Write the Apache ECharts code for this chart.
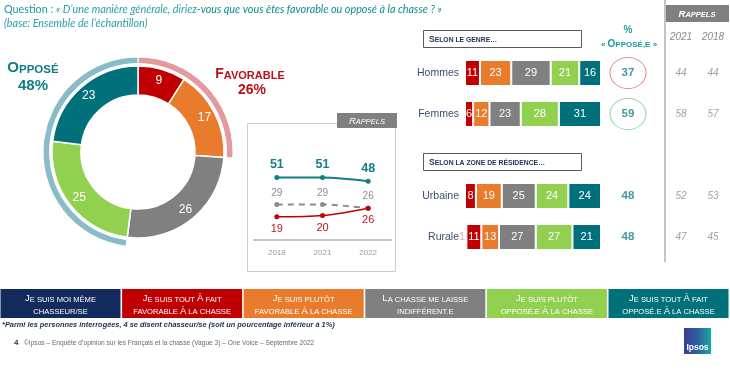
<!DOCTYPE html>
<html><head><meta charset="utf-8">
<script src="https://cdn.jsdelivr.net/npm/echarts@6/dist/echarts.min.js"></script>
<style>html,body{margin:0;padding:0;background:#fff}#c{width:730px;height:380px}</style>
</head><body><div id="c"></div>
<script>
// ---------- DATA ----------
const answerCats = ['Je suis moi même chasseur/se','Je suis tout À fait favorable À la chasse','Je suis plutôt favorable À la chasse','La chasse me laisse indifférent.e','Je suis plutôt opposé.e À la chasse','Je suis tout À fait opposé.e À la chasse'];
const legendLines = [['Je suis moi même','chasseur/se'],['Je suis tout À fait','favorable À la chasse'],['Je suis plutôt','favorable À la chasse'],['La chasse me laisse','indifférent.e'],['Je suis plutôt','opposé.e À la chasse'],['Je suis tout À fait','opposé.e À la chasse']];
const donutValues = [9, 17, 26, 25, 23]; // tout à fait fav, plutôt fav, indiff, plutôt opp, tout à fait opp
const trendYears = ['2018', '2021', '2022'];
const trendOppose = [51, 51, 48];
const trendIndiff = [29, 29, 26];
const trendFavor = [19, 20, 26];
const rowCats = ['Hommes', 'Femmes', '', 'Urbaine', 'Rurale'];
const segChasseur = [0, 0, null, 0, 1];
const segToutFav = [11, 6, null, 8, 11];
const segPlutotFav = [23, 12, null, 19, 13];
const segIndiff = [29, 23, null, 25, 27];
const segPlutotOpp = [21, 28, null, 24, 27];
const segToutOpp = [16, 31, null, 24, 21];
const opposeTotal = [37, 59, null, 48, 48];
const rappelYears = ['2021', '2018'];
const rappel2021 = [44, 58, null, 52, 47];
const rappel2018 = [44, 57, null, 53, 45];

// ---------- STYLE ----------
const FONT = '"Liberation Sans", Arial, sans-serif';
const palette = ['#132b5c', '#c00000', '#e97b2c', '#808080', '#92d050', '#00717a'];
const TEAL_TXT = '#137d88';
const NAVY = '#1f2d57';
const circleColors = ['#e07070', '#7cc898', null, null, null];

function sc(str, B, S) {
  let out = '', cur = null, buf = '';
  for (const ch of str) {
    const up = ch !== ch.toLowerCase();
    const cls = up ? B : S;
    const c = up ? ch : ch.toUpperCase();
    if (cls !== cur && buf) { out += '{' + cur + '|' + buf + '}'; buf = ''; }
    cur = cls; buf += c;
  }
  if (buf) out += '{' + cur + '|' + buf + '}';
  return out;
}

const chart = echarts.init(document.getElementById('c'));

const segs = [segChasseur, segToutFav, segPlutotFav, segIndiff, segPlutotOpp, segToutOpp];
const favTotal = donutValues[0] + donutValues[1];
const oppTotal = donutValues[3] + donutValues[4];

const barSeries = segs.map((arr, k) => ({
  type: 'bar', name: answerCats[k], stack: 'a', xAxisIndex: 1, yAxisIndex: 1, barWidth: 26,
  silent: true, z: k === 0 ? 3 : 2,
  itemStyle: { color: palette[k], borderColor: '#fff', borderWidth: 1 },
  label: k === 0
    ? { show: true, position: 'left', distance: 0, color: '#d8aeb4', fontSize: 11, fontFamily: FONT,
        formatter: p => (p.value > 0 ? p.value : '') }
    : { show: true, position: 'inside', color: '#fff', fontSize: 11, fontFamily: FONT,
        formatter: p => (p.value > 0 ? p.value : '') },
  labelLayout: { hideOverlap: false },
  data: arr.map(v => (v == null ? '-' : v))
}));

function colData(arr, circled) {
  const out = [];
  arr.forEach((v, i) => {
    if (v == null) return;
    const item = { value: [0, i, v] };
    if (circled && circleColors[i]) {
      item.symbolSize = [36, 31];
      item.itemStyle = { color: 'rgba(0,0,0,0)', borderColor: circleColors[i], borderWidth: 1 };
    } else {
      item.symbolSize = 1;
      item.itemStyle = { color: 'rgba(0,0,0,0)' };
    }
    out.push(item);
  });
  return out;
}

const colGrids = [
  { left: 613, top: 52.5, width: 30, height: 205 },
  { left: 666, top: 52.5, width: 30, height: 205 },
  { left: 698, top: 52.5, width: 30, height: 205 }
];

const xAxes = [
  { gridIndex: 0, type: 'category', data: trendYears, boundaryGap: true,
    axisLine: { lineStyle: { color: '#c4c4c4', width: 2 } }, axisTick: { show: false },
    axisLabel: { color: '#9a9a9a', fontSize: 8, margin: 9, fontFamily: FONT } },
  { gridIndex: 1, type: 'value', min: 0, max: 100, show: false }
];
const yAxes = [
  { gridIndex: 0, type: 'value', min: 0, max: 80, show: false },
  { gridIndex: 1, type: 'category', data: rowCats, inverse: true,
    axisLine: { show: false }, axisTick: { show: false }, splitLine: { show: false },
    axisLabel: { color: '#3b4c70', fontSize: 10.5, margin: 6, fontFamily: FONT } }
];
colGrids.forEach((gr, j) => {
  xAxes.push({ gridIndex: 2 + j, type: 'category', data: ['x'], show: false });
  yAxes.push({ gridIndex: 2 + j, type: 'category', data: rowCats, inverse: true, show: false });
});

const colSeries = [
  { type: 'scatter', xAxisIndex: 2, yAxisIndex: 2, silent: true, data: colData(opposeTotal, true),
    label: { show: true, position: 'inside', formatter: p => p.value[2], color: TEAL_TXT, fontWeight: 'bold', fontSize: 11.5, fontFamily: FONT } },
  { type: 'scatter', xAxisIndex: 3, yAxisIndex: 3, silent: true, data: colData(rappel2021, false),
    label: { show: true, position: 'inside', formatter: p => p.value[2], color: '#8a8a8a', fontStyle: 'italic', fontSize: 10, fontFamily: FONT } },
  { type: 'scatter', xAxisIndex: 4, yAxisIndex: 4, silent: true, data: colData(rappel2018, false),
    label: { show: true, position: 'inside', formatter: p => p.value[2], color: '#8a8a8a', fontStyle: 'italic', fontSize: 10, fontFamily: FONT } }
];

// ---------- GRAPHICS ----------
const g = [];
g.push({ type: 'text', style: { x: 4, y: 3, text:
  '{q|Question : }{i|« D’une manière générale, diriez-}{b|vous que vous êtes favorable ou opposé à la chasse ? »}\n{i|(base: Ensemble de l’échantillon)}',
  rich: {
    q: { fontFamily: 'Lato', fontSize: 10.8, fill: '#1e9aa2', lineHeight: 14 },
    i: { fontFamily: 'Lato', fontSize: 10.8, fontStyle: 'italic', fill: '#2aa0a6', lineHeight: 14 },
    b: { fontFamily: 'Lato', fontSize: 10.8, fontStyle: 'italic', fill: '#138a92', lineHeight: 14 }
  } } });

// Opposé / Favorable labels
g.push({ type: 'text', style: { x: 33, y: 68, align: 'center', verticalAlign: 'middle', textAlign: 'center', textVerticalAlign: 'middle',
  text: sc('Opposé', 'B', 'S'),
  rich: { B: { fontSize: 15, fontWeight: 'bold', fill: '#127c86', fontFamily: FONT, verticalAlign: 'bottom' },
          S: { fontSize: 11.5, fontWeight: 'bold', fill: '#127c86', fontFamily: FONT, verticalAlign: 'bottom' } } } });
g.push({ type: 'text', style: { x: 33, y: 86, align: 'center', verticalAlign: 'middle', textAlign: 'center', textVerticalAlign: 'middle',
  text: oppTotal + '%', font: 'bold 15px ' + FONT, fill: '#127c86' } });
g.push({ type: 'text', style: { x: 250, y: 74, align: 'center', verticalAlign: 'middle', textAlign: 'center', textVerticalAlign: 'middle',
  text: sc('Favorable', 'B', 'S'),
  rich: { B: { fontSize: 14, fontWeight: 'bold', fill: '#b8101c', fontFamily: FONT, verticalAlign: 'bottom' },
          S: { fontSize: 11, fontWeight: 'bold', fill: '#b8101c', fontFamily: FONT, verticalAlign: 'bottom' } } } });
g.push({ type: 'text', style: { x: 252, y: 90, align: 'center', verticalAlign: 'middle', textAlign: 'center', textVerticalAlign: 'middle',
  text: favTotal + '%', font: 'bold 14px ' + FONT, fill: '#b8101c' } });

// mini chart frame + tab
g.push({ type: 'polyline', shape: { points: [[337, 123.5], [247.5, 123.5], [247.5, 271.5], [395.5, 271.5], [395.5, 128]] },
  style: { stroke: '#cccccc', lineWidth: 1, fill: null } });
g.push({ type: 'rect', shape: { x: 337, y: 113, width: 60, height: 15 }, style: { fill: '#808080' } });
g.push({ type: 'text', style: { x: 367, y: 121, align: 'center', verticalAlign: 'middle', textAlign: 'center', textVerticalAlign: 'middle',
  text: sc('Rappels', 'B', 'S'),
  rich: { B: { fontSize: 9.5, fontStyle: 'italic', fill: '#fff', fontFamily: FONT, verticalAlign: 'bottom' },
          S: { fontSize: 7.5, fontStyle: 'italic', fill: '#fff', fontFamily: FONT, verticalAlign: 'bottom' } } } });

// section boxes
[['Selon le genre…', 30], ['Selon la zone de résidence…', 153]].forEach(([t, y]) => {
  g.push({ type: 'rect', shape: { x: 423.5, y: y + 0.5, width: 158, height: 17 }, style: { fill: '#fff', stroke: '#5a5a5a', lineWidth: 1 } });
  g.push({ type: 'text', style: { x: 429, y: y + 9.5, verticalAlign: 'middle', textVerticalAlign: 'middle',
    text: sc(t, 'B', 'S'),
    rich: { B: { fontSize: 8.5, fontWeight: 'bold', fill: NAVY, fontFamily: FONT, verticalAlign: 'bottom' },
            S: { fontSize: 6.8, fontWeight: 'bold', fill: NAVY, fontFamily: FONT, verticalAlign: 'bottom' } } } });
});

// % opposé header
g.push({ type: 'text', style: { x: 628, y: 30, align: 'center', verticalAlign: 'middle', textAlign: 'center', textVerticalAlign: 'middle',
  text: '%', font: 'bold 10px ' + FONT, fill: '#1a9aa2' } });
g.push({ type: 'text', style: { x: 629, y: 44, align: 'center', verticalAlign: 'middle', textAlign: 'center', textVerticalAlign: 'middle',
  text: sc('« Opposé,e »', 'B', 'S'),
  rich: { B: { fontSize: 10, fontWeight: 'bold', fill: '#1a9aa2', fontFamily: FONT, verticalAlign: 'bottom' },
          S: { fontSize: 8, fontWeight: 'bold', fill: '#1a9aa2', fontFamily: FONT, verticalAlign: 'bottom' } } } });

// rappels column
g.push({ type: 'line', shape: { x1: 665, y1: 0, x2: 665, y2: 262 }, style: { stroke: '#c4c4c4', lineWidth: 2 } });
g.push({ type: 'rect', shape: { x: 666, y: 5, width: 63, height: 17 }, style: { fill: '#808080' } });
g.push({ type: 'text', style: { x: 697, y: 14, align: 'center', verticalAlign: 'middle', textAlign: 'center', textVerticalAlign: 'middle',
  text: sc('Rappels', 'B', 'S'),
  rich: { B: { fontSize: 9.5, fontStyle: 'italic', fontWeight: 'bold', fill: '#fff', fontFamily: FONT, verticalAlign: 'bottom' },
          S: { fontSize: 7.5, fontStyle: 'italic', fontWeight: 'bold', fill: '#fff', fontFamily: FONT, verticalAlign: 'bottom' } } } });
rappelYears.forEach((yr, j) => {
  g.push({ type: 'text', style: { x: [681, 713][j], y: 37, align: 'center', verticalAlign: 'middle', textAlign: 'center', textVerticalAlign: 'middle',
    text: yr, font: 'italic 10px ' + FONT, fill: '#8a8a8a' } });
});

// legend boxes
legendLines.forEach((lines, i) => {
  const x = i * 121.6 + 0.5;
  g.push({ type: 'rect', shape: { x: x, y: 289, width: 120, height: 29 }, style: { fill: palette[i] } });
  g.push({ type: 'text', style: { x: x + 60, y: 303.5, align: 'center', verticalAlign: 'middle', textAlign: 'center', textVerticalAlign: 'middle',
    text: lines.map(l => sc(l, 'B', 'S')).join('\n'),
    rich: { B: { fontSize: 9.5, fill: '#fff', fontFamily: FONT, verticalAlign: 'bottom', lineHeight: 12.5 },
            S: { fontSize: 7.6, fill: '#fff', fontFamily: FONT, verticalAlign: 'bottom', lineHeight: 12.5 } } } });
});

// footnotes
g.push({ type: 'text', style: { x: 2, y: 325, verticalAlign: 'middle', textVerticalAlign: 'middle',
  text: '*Parmi les personnes interrogées, 4 se disent chasseur/se (soit un pourcentage inférieur à 1%)',
  font: 'italic bold 7.4px ' + FONT, fill: NAVY } });
g.push({ type: 'text', style: { x: 14, y: 343, verticalAlign: 'middle', textVerticalAlign: 'middle',
  text: '4', font: 'bold 8px ' + FONT, fill: NAVY } });
g.push({ type: 'text', style: { x: 24, y: 343, verticalAlign: 'middle', textVerticalAlign: 'middle',
  text: '©Ipsos – Enquête d’opinion sur les Français et la chasse (Vague 3) – One Voice – Septembre 2022',
  font: '6.6px ' + FONT, fill: '#6a6a6a' } });

// logo
g.push({ type: 'rect', shape: { x: 684, y: 328, width: 27, height: 26 },
  style: { fill: new echarts.graphic.LinearGradient(0, 0, 1, 0, [{ offset: 0, color: '#3b3f92' }, { offset: 0.5, color: '#2d5fa0' }, { offset: 1, color: '#19a9a0' }]) } });
g.push({ type: 'text', style: { x: 697.5, y: 348, align: 'center', verticalAlign: 'middle', textAlign: 'center', textVerticalAlign: 'middle',
  text: 'Ipsos', font: 'bold 8.5px ' + FONT, fill: '#fff' } });

chart.setOption({
  animation: false,
  textStyle: { fontFamily: FONT },
  grid: [
    { left: 254, top: 142, width: 137, height: 98 },
    { left: 465, top: 52.5, width: 136, height: 205 },
    ...colGrids
  ],
  xAxis: xAxes,
  yAxis: yAxes,
  series: [
    { type: 'pie', radius: [57, 86], center: [138, 152], startAngle: 90, clockwise: true, silent: true,
      avoidLabelOverlap: false, itemStyle: { borderColor: '#fff', borderWidth: 1.5 },
      label: { show: true, position: 'inside', formatter: '{c}', color: '#fff', fontSize: 12, fontFamily: FONT },
      labelLine: { show: false },
      data: donutValues.map((v, i) => ({ value: v, name: answerCats[i + 1], itemStyle: { color: palette[i + 1] } })) },
    { type: 'pie', radius: [88.5, 95], center: [138, 152], startAngle: 90, clockwise: true, silent: true,
      label: { show: false }, labelLine: { show: false }, itemStyle: { borderColor: '#fff', borderWidth: 1 },
      data: [
        { value: favTotal, itemStyle: { color: '#e3999e' } },
        { value: donutValues[2], itemStyle: { color: 'rgba(0,0,0,0)', borderWidth: 0 } },
        { value: oppTotal, itemStyle: { color: '#89bcc6' } }
      ] },
    { type: 'line', xAxisIndex: 0, yAxisIndex: 0, data: trendOppose, smooth: 0.3, symbol: 'circle', symbolSize: 5, silent: true,
      lineStyle: { color: '#137d88', width: 2 }, itemStyle: { color: '#137d88' },
      label: { show: true, position: 'top', distance: 4, color: '#137d88', fontWeight: 'bold', fontSize: 12.5, fontFamily: FONT } },
    { type: 'line', xAxisIndex: 0, yAxisIndex: 0, data: trendIndiff, smooth: 0.3, symbol: 'circle', symbolSize: 5, silent: true,
      lineStyle: { color: '#8c8c8c', width: 2, type: [6, 5] }, itemStyle: { color: '#8c8c8c' },
      label: { show: true, position: 'top', distance: 4, color: '#8c8c8c', fontSize: 10, fontFamily: FONT } },
    { type: 'line', xAxisIndex: 0, yAxisIndex: 0, data: trendFavor, smooth: 0.3, symbol: 'circle', symbolSize: 5, silent: true,
      lineStyle: { color: '#c00000', width: 1.5 }, itemStyle: { color: '#c00000' },
      label: { show: true, position: 'bottom', distance: 4, color: '#c0141c', fontSize: 11, fontFamily: FONT } },
    ...barSeries,
    ...colSeries
  ],
  graphic: g
});
</script>
</body></html>
